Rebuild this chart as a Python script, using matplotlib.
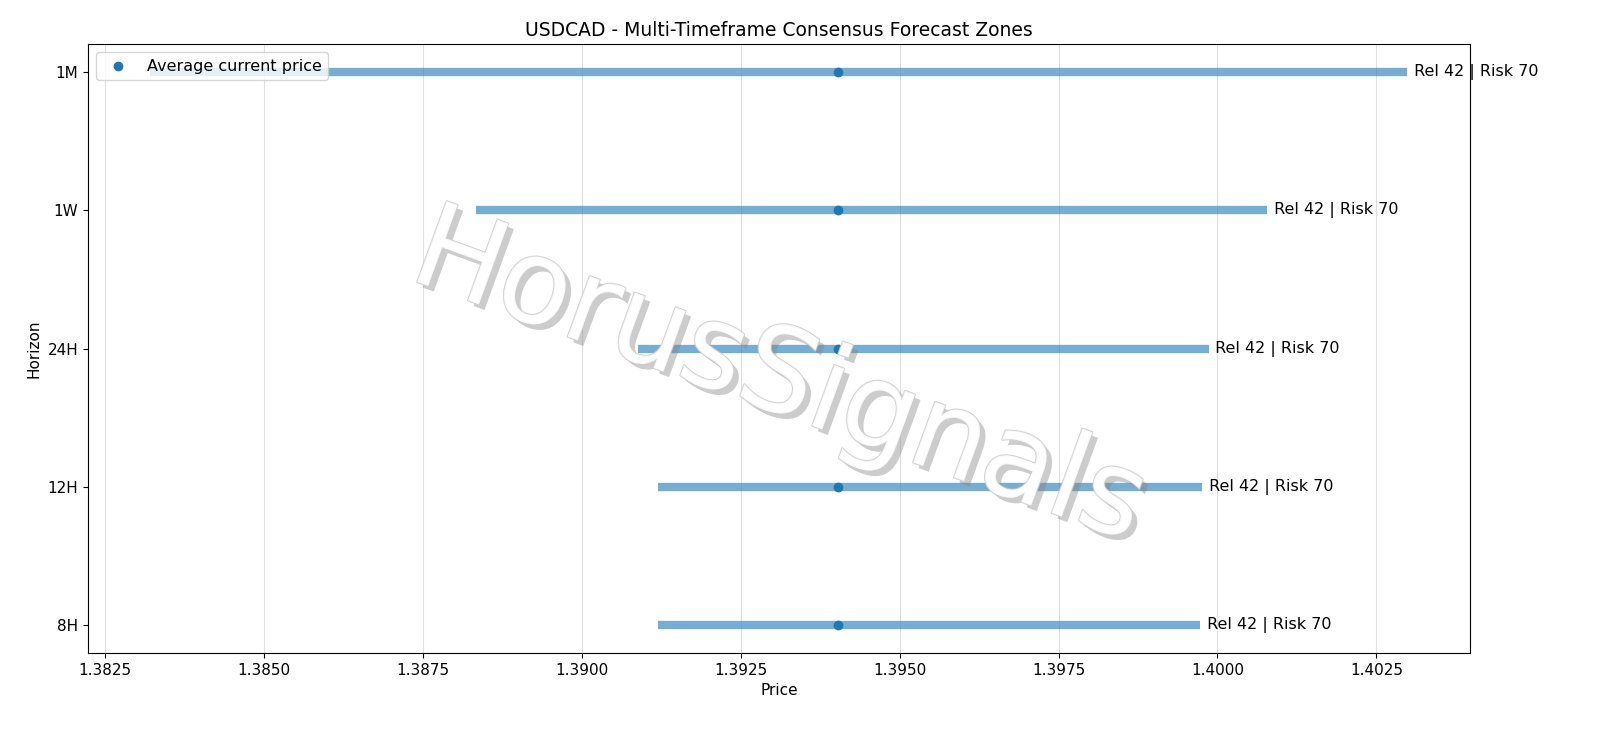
import matplotlib
matplotlib.use("Agg")
import matplotlib.pyplot as plt
import matplotlib.patheffects as pe

horizons = ["8H", "12H", "24H", "1W", "1M"]
low = [1.39120, 1.39120, 1.39089, 1.38834, 1.38321]
high = [1.39973, 1.39976, 1.39986, 1.40078, 1.40299]
avg_price = [1.39403, 1.39403, 1.39403, 1.39403, 1.39403]
labels = ["Rel 42 | Risk 70"] * 5

fig, ax = plt.subplots(figsize=(16, 7.38), dpi=100)
fig.subplots_adjust(left=0.055, right=0.919, top=0.94, bottom=0.115)
y = list(range(len(horizons)))
ax.hlines(y, low, high, linewidth=6, color="C0", alpha=0.6)
ax.scatter(avg_price, y, color="C0", zorder=3, label="Average current price")
for yi, h, t in zip(y, high, labels):
    ax.text(h + 0.00003, yi, " " + t, va="center", fontsize=11.5)
ax.set_yticks(y)
ax.set_yticklabels(horizons)
ax.set_xticks([1.3825, 1.385, 1.3875, 1.39, 1.3925, 1.395, 1.3975, 1.40, 1.4025])
ax.set_xticklabels([f"{v:.4f}" for v in ax.get_xticks()])
ax.set_xlim(1.38223, 1.40398)
ax.grid(axis="x", alpha=0.4)
ax.set_xlabel("Price", fontsize=11)
ax.set_ylabel("Horizon", fontsize=11)
ax.tick_params(labelsize=11)
ax.set_title("USDCAD - Multi-Timeframe Consensus Forecast Zones", fontsize=13.5)
ax.legend(loc="upper left", fontsize=11.5)
ax.text(0.5, 0.45, "HorusSignals", transform=ax.transAxes, fontsize=85, rotation=-20,
        ha="center", va="center", color="white", alpha=0.85,
        path_effects=[pe.withSimplePatchShadow(offset=(4, -4), shadow_rgbFace="gray", alpha=0.4),
                      pe.Stroke(linewidth=1.5, foreground="#cccccc"), pe.Normal()], zorder=5)
fig.savefig("out.png")
